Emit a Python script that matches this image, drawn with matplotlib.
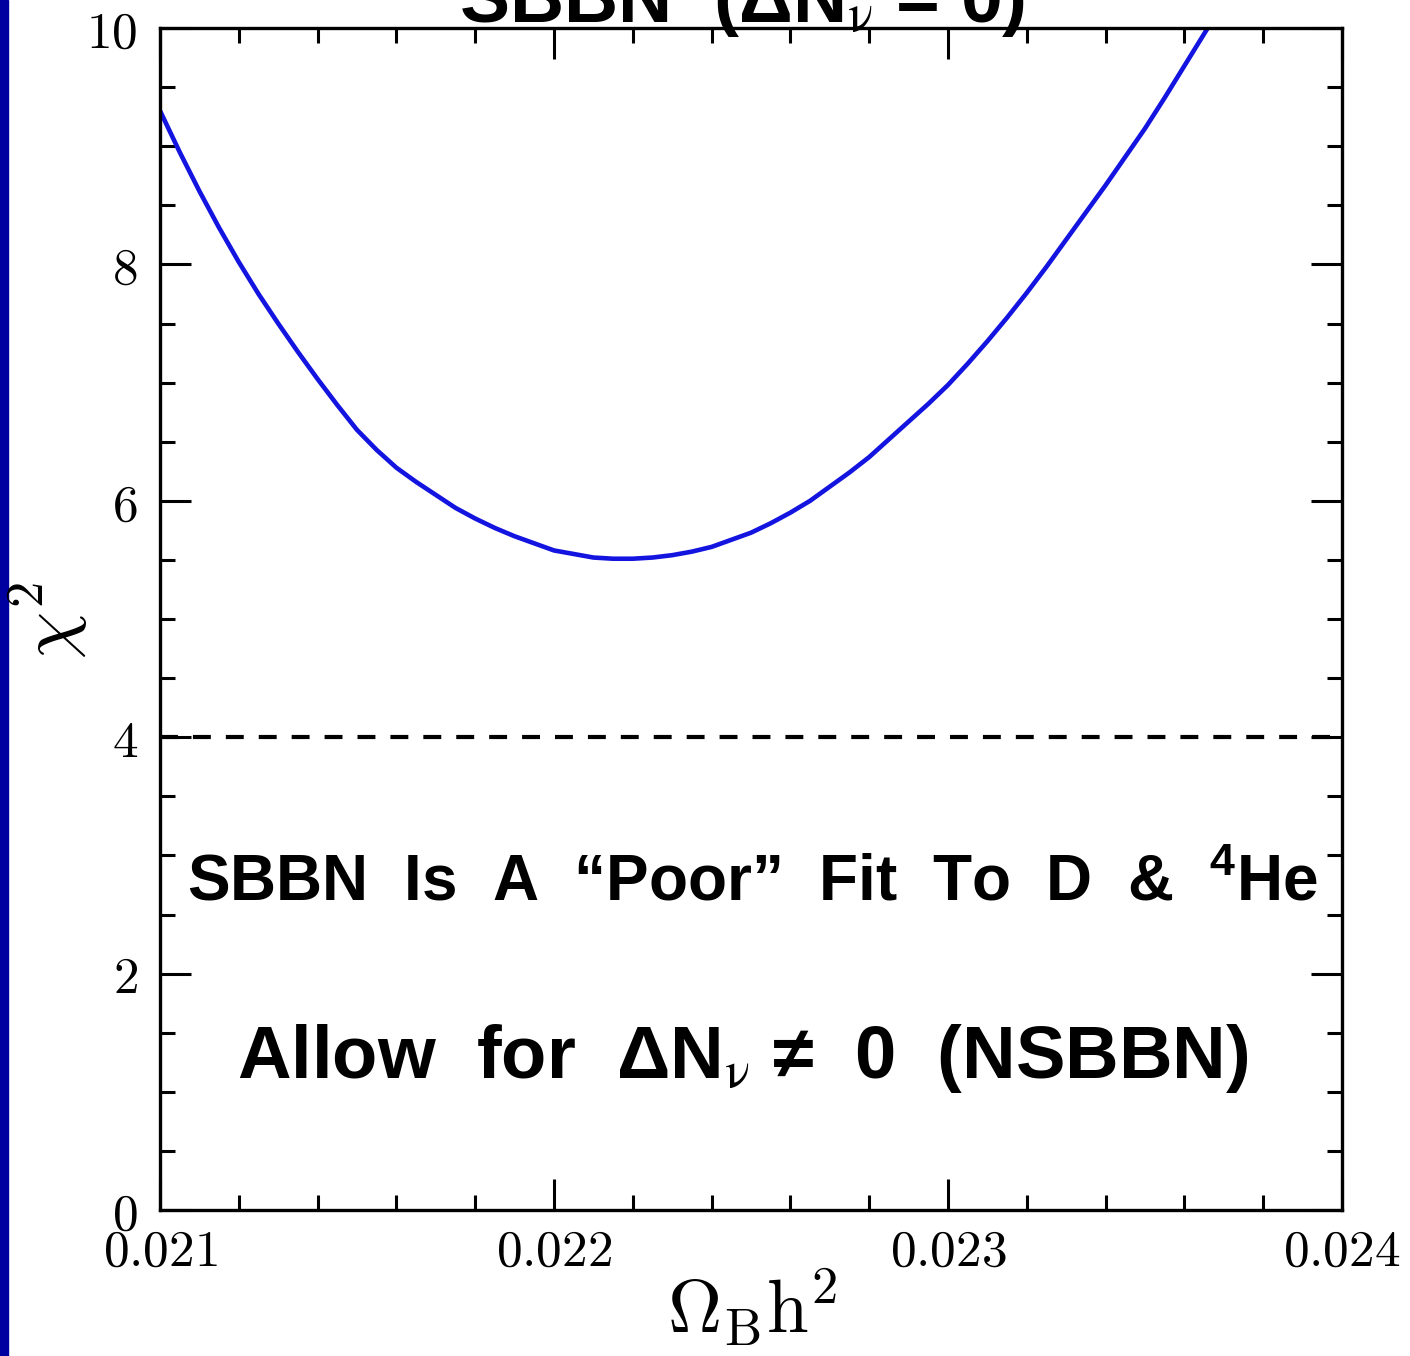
import matplotlib
matplotlib.use("Agg")
import matplotlib.pyplot as plt
from matplotlib.patches import Rectangle
from matplotlib.ticker import MultipleLocator, FuncFormatter

# ======================================
# DATA
# ======================================

omega_b = [0.02100, 0.02105, 0.02110, 0.02115, 0.02120, 0.02125, 0.02130,
           0.02135, 0.02140, 0.02145, 0.02150, 0.02155, 0.02160, 0.02165,
           0.02170, 0.02175, 0.02180, 0.02185, 0.02190, 0.02195, 0.02200,
           0.02205, 0.02210, 0.02215, 0.02220, 0.02225, 0.02230, 0.02235,
           0.02240, 0.02245, 0.02250, 0.02255, 0.02260, 0.02265, 0.02270,
           0.02275, 0.02280, 0.02285, 0.02290, 0.02295, 0.02300, 0.02305,
           0.02310, 0.02315, 0.02320, 0.02325, 0.02330, 0.02335, 0.02340,
           0.02345, 0.02350, 0.02355, 0.02360, 0.02365, 0.02370]
chi2 = [9.30, 8.95, 8.62, 8.31, 8.02, 7.75, 7.50,
        7.26, 7.03, 6.81, 6.60, 6.43, 6.28, 6.16,
        6.05, 5.94, 5.85, 5.77, 5.70, 5.64, 5.58,
        5.55, 5.52, 5.51, 5.51, 5.52, 5.54, 5.57,
        5.61, 5.67, 5.73, 5.81, 5.90, 6.00, 6.12,
        6.24, 6.37, 6.52, 6.67, 6.82, 6.98, 7.16,
        7.35, 7.55, 7.76, 7.98, 8.21, 8.44, 8.67,
        8.91, 9.15, 9.41, 9.68, 9.95, 10.22]

chi2_limit = 4
x_ticks = [0.021, 0.022, 0.023, 0.024]
y_ticks = [0, 2, 4, 6, 8, 10]

# ======================================
# FIGURE
# ======================================

plt.rcParams["mathtext.fontset"] = "cm"
plt.rcParams["mathtext.bf"] = "Liberation Sans:bold"

W, H = 1410, 1356
fig = plt.figure(figsize=(W / 100, H / 100), dpi=100)
fig.patches.append(Rectangle((0, 0), 8 / W, 1, transform=fig.transFigure,
                             color="#0000A0", zorder=0))

ax = fig.add_axes([160 / W, 1 - 1210 / H, 1182 / W, 1182 / H])
ax.plot(omega_b, chi2, color="#1414E0", lw=3.3)
ax.axhline(chi2_limit, color="black", lw=3.0, dashes=(4.3, 3.6))

ax.set_xlim(0.021, 0.024)
ax.set_ylim(0, 10)
ax.set_xticks(x_ticks)
ax.set_yticks(y_ticks)
ax.xaxis.set_minor_locator(MultipleLocator(0.0002))
ax.yaxis.set_minor_locator(MultipleLocator(0.5))
ax.xaxis.set_major_formatter(FuncFormatter(lambda v, p: r"$%.3f$" % v))
ax.yaxis.set_major_formatter(FuncFormatter(lambda v, p: r"$%d$" % round(v)))

for s in ax.spines.values():
    s.set_linewidth(2.4)
ax.tick_params(which="both", direction="in", top=True, right=True, width=2.2)
ax.tick_params(which="major", length=22, labelsize=37)
ax.tick_params(which="minor", length=11)
ax.tick_params(axis="x", which="major", pad=12)
ax.tick_params(axis="y", which="major", pad=16)

# axis labels
fig.text(752 / W, 1 - 1333 / H, r"$\Omega_{\rm B}{\rm h}^2$", fontsize=54,
         ha="center", va="baseline")
fig.text(48 / W, 1 - 620 / H, r"$\chi^2$", fontsize=54, rotation=90,
         ha="center", va="center")

sans = ["Liberation Sans", "DejaVu Sans"]

# cut-off title
fig.text(742 / W, 1 - 22 / H, "SBBN  (\u0394N$_{\\mathrm{\\nu}}$ = 0)",
         fontsize=54, fontweight="bold", ha="center", va="baseline",
         family=sans, math_fontfamily="stix")

# annotations
ax.text(0.5015, (1210 - 900) / 1182,
        "SBBN  Is  A  \u201cPoor\u201d  Fit  To  D  &  $^{\\mathbf{4}}$He",
        transform=ax.transAxes, fontsize=46, fontweight="bold",
        ha="center", va="baseline", family=sans, math_fontfamily="custom")
ax.text(0.493, (1210 - 1078) / 1182,
        "Allow  for  \u0394N$_{\\mathrm{\\nu}}$ \u2260  0  (NSBBN)",
        transform=ax.transAxes, fontsize=53.5, fontweight="bold",
        ha="center", va="baseline", family=sans, math_fontfamily="stix")

fig.savefig("out.png", dpi=100)
